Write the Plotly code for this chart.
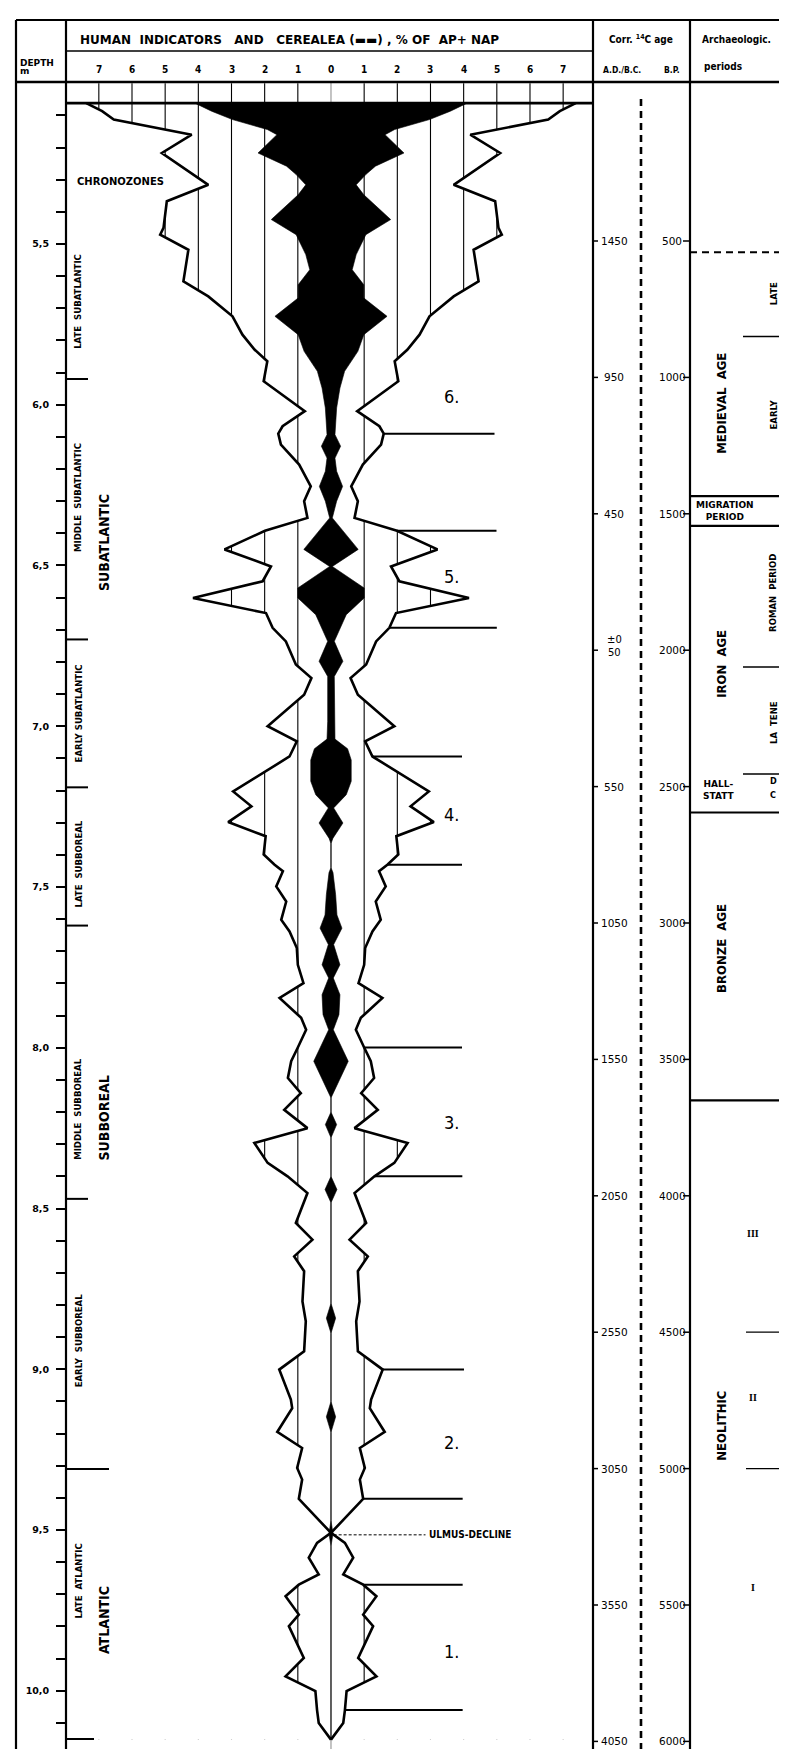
import plotly.graph_objects as go

W, H = 787, 1749


def px(x):
    return x / W


def py(y):
    return 1 - y / H


FONT = "DejaVu Sans Condensed, DejaVu Sans, sans-serif"
FONT_WIDE = "DejaVu Sans, sans-serif"

# ---------------- data ----------------
# Human indicators (half width of the symmetric silhouette, % of AP+NAP) by depth (m)
hum_depth = [5.062, 5.087, 5.113, 5.160, 5.217, 5.316, 5.367, 5.450, 5.471, 5.518,
             5.616, 5.663, 5.725, 5.782, 5.829, 5.865, 5.927, 6.020, 6.067, 6.090,
             6.124, 6.186, 6.254, 6.300, 6.352, 6.392, 6.450, 6.503, 6.549, 6.601,
             6.648, 6.694, 6.736, 6.808, 6.850, 6.902, 7.000, 7.047, 7.094, 7.140,
             7.203, 7.249, 7.298, 7.342, 7.399, 7.431, 7.451, 7.498, 7.545, 7.602,
             7.638, 7.690, 7.742, 7.799, 7.845, 7.907, 7.944, 7.999, 8.042, 8.094,
             8.141, 8.193, 8.250, 8.296, 8.358, 8.400, 8.452, 8.545, 8.597, 8.649,
             8.695, 8.789, 8.851, 8.944, 9.001, 9.094, 9.121, 9.195, 9.245, 9.307,
             9.343, 9.403, 9.509, 9.540, 9.586, 9.638, 9.670, 9.706, 9.763, 9.799,
             9.898, 9.955, 10.001, 10.060, 10.100, 10.152]
hum_pct = [7.38, 6.90, 6.55, 4.20, 5.10, 3.70, 4.95, 5.05, 5.15, 4.30,
           4.45, 3.70, 2.97, 2.67, 2.30, 1.92, 2.03, 0.79, 1.46, 1.59,
           1.51, 0.96, 0.61, 0.81, 0.71, 1.99, 3.21, 1.81, 2.06, 4.16,
           1.96, 1.76, 1.36, 1.06, 0.59, 0.81, 1.91, 1.03, 1.25, 1.95,
           2.95, 2.40, 3.10, 1.97, 2.03, 1.70, 1.45, 1.65, 1.35, 1.50,
           1.25, 1.03, 1.00, 0.83, 1.55, 0.90, 0.75, 1.00, 1.20, 1.30,
           0.91, 1.41, 0.71, 2.31, 1.91, 1.31, 0.71, 1.06, 0.56, 1.11,
           0.81, 0.86, 0.76, 0.81, 1.56, 1.21, 1.17, 1.62, 0.87, 1.02,
           0.87, 0.97, 0.00, 0.42, 0.67, 0.37, 0.97, 1.37, 0.97, 1.27,
           0.82, 1.37, 0.47, 0.42, 0.37, 0.00]

# Cerealea (half width, %) by depth (m)
cer_depth = [5.062, 5.087, 5.113, 5.144, 5.160, 5.217, 5.258, 5.284, 5.316, 5.347,
             5.424, 5.471, 5.533, 5.580, 5.627, 5.668, 5.725, 5.782, 5.834, 5.896,
             5.948, 6.010, 6.093, 6.129, 6.166, 6.207, 6.254, 6.300, 6.352, 6.450,
             6.503, 6.570, 6.601, 6.653, 6.736, 6.798, 6.845, 6.985, 7.040, 7.070,
             7.105, 7.171, 7.213, 7.254, 7.301, 7.348, 7.365, 7.440, 7.455, 7.524,
             7.587, 7.628, 7.679, 7.742, 7.783, 7.835, 7.897, 7.944, 8.042, 8.156,
             8.200, 8.239, 8.280, 8.400, 8.441, 8.482, 8.795, 8.841, 8.888, 9.100,
             9.148, 9.196, 9.470, 9.512, 9.550, 10.152]
cer_pct = [4.10, 3.60, 2.97, 1.92, 1.63, 2.20, 1.34, 1.05, 0.76, 0.99,
           1.80, 1.05, 0.76, 0.64, 0.99, 0.99, 1.69, 0.99, 0.81, 0.41,
           0.27, 0.17, 0.12, 0.29, 0.12, 0.17, 0.35, 0.17, 0.04, 0.82,
           0.04, 1.00, 1.00, 0.46, 0.10, 0.36, 0.10, 0.10, 0.12, 0.50,
           0.61, 0.61, 0.46, 0.08, 0.36, 0.06, 0.00, 0.00, 0.06, 0.14,
           0.18, 0.33, 0.08, 0.27, 0.07, 0.27, 0.24, 0.07, 0.52, 0.00,
           0.00, 0.17, 0.00, 0.00, 0.18, 0.00, 0.00, 0.14, 0.00, 0.00,
           0.14, 0.00, 0.00, 0.06, 0.00, 0.00]

# Local pollen zone boundaries
zone_depth = [6.090, 6.392, 6.694, 7.094, 7.431, 7.999, 8.400, 9.001, 9.403, 9.670, 10.060]
zone_x0 = [1.59, 1.99, 1.76, 1.25, 1.70, 1.00, 1.31, 1.56, 0.97, 0.97, 0.42]
zone_x1 = [4.93, 4.99, 5.00, 3.95, 3.95, 3.95, 3.96, 4.01, 3.97, 3.97, 3.97]
zone_names = ["6.", "5.", "4.", "3.", "2.", "1."]
zone_label_depth = [5.973, 6.533, 7.275, 8.234, 9.229, 9.877]
ulmus_depth = 9.515

pct_ticks = [-7, -6, -5, -4, -3, -2, -1, 0, 1, 2, 3, 4, 5, 6, 7]
pct_tick_text = ["7", "6", "5", "4", "3", "2", "1", "0", "1", "2", "3", "4", "5", "6", "7"]

depth_major = [5.5, 6.0, 6.5, 7.0, 7.5, 8.0, 8.5, 9.0, 9.5, 10.0]
depth_major_text = ["5,5", "6,0", "6,5", "7,0", "7,5", "8,0", "8,5", "9,0", "9,5", "10,0"]

# Chronozones
chrono_small = ["LATE  SUBATLANTIC", "MIDDLE  SUBATLANTIC", "EARLY SUBATLANTIC",
                "LATE  SUBBOREAL", "MIDDLE  SUBBOREAL", "EARLY  SUBBOREAL", "LATE  ATLANTIC"]
chrono_small_depth = [5.68, 6.29, 6.96, 7.43, 8.19, 8.91, 9.66]
chrono_big = ["SUBATLANTIC", "SUBBOREAL", "ATLANTIC"]
chrono_big_depth = [6.43, 8.22, 9.78]
chrono_bounds = [5.92, 6.73, 7.19, 7.62, 8.47, 9.31, 10.15]

# Age scale (BP) and corrected calendar labels
bp_ticks = [500, 1000, 1500, 2000, 2500, 3000, 3500, 4000, 4500, 5000, 5500, 6000]
bp_text = ["500", "1000", "1500", "2000", "2500", "3000", "3500", "4000", "4500", "5000", "5500", "6000"]
adbc_text = ["1450", "950", "450", "\u00b10<br>50", "550", "1050", "1550", "2050", "2550", "3050", "3550", "4050"]

# Archaeological periods (BP)
arch_dashed = 541
arch_full_bounds = [1435, 1544, 2595, 3650]
arch_sub_bounds = [850, 2062, 2454]
neo_bounds = [4500, 5000]
arch_main = ["MEDIEVAL  AGE", "IRON  AGE", "BRONZE  AGE", "NEOLITHIC"]
arch_main_bp = [1097, 2050, 3095, 4843]
arch_sub = ["LATE", "EARLY", "ROMAN  PERIOD", "LA  TENE"]
arch_sub_bp = [695, 1136, 1790, 2267]
neo_phases = ["III", "II", "I"]
neo_phase_bp = [4138, 4741, 5437]

# ---------------- figure ----------------
XL, XR = -7.99, 7.90
fig = go.Figure()

# white masks outside the human-indicator silhouette (clip the hatching)
fig.add_trace(go.Scatter(
    x=hum_pct + [XR, XR], y=hum_depth + [hum_depth[-1], hum_depth[0]],
    fill="toself", fillcolor="white", mode="lines", line=dict(width=0, color="white"),
    hoverinfo="skip"))
fig.add_trace(go.Scatter(
    x=[-v for v in hum_pct] + [XL, XL], y=hum_depth + [hum_depth[-1], hum_depth[0]],
    fill="toself", fillcolor="white", mode="lines", line=dict(width=0, color="white"),
    hoverinfo="skip"))

# Cerealea black silhouette
fig.add_trace(go.Scatter(
    x=cer_pct + [-v for v in reversed(cer_pct)],
    y=cer_depth + list(reversed(cer_depth)),
    fill="toself", fillcolor="black", mode="lines", line=dict(width=0.6, color="black"),
    hoverinfo="skip"))

# Human indicators outline
for sgn in (1, -1):
    fig.add_trace(go.Scatter(
        x=[sgn * v for v in hum_pct], y=hum_depth, mode="lines",
        line=dict(color="black", width=2.6), hoverinfo="skip"))

shapes = []


def pline(x0, y0, x1, y1, w=2.0, color="black", dash=None, layer="above"):
    ln = dict(color=color, width=w)
    if dash:
        ln["dash"] = dash
    shapes.append(dict(type="line", xref="paper", yref="paper",
                       x0=px(x0), y0=py(y0), x1=px(x1), y1=py(y1), line=ln, layer=layer))


# hatching gridlines
for k in pct_ticks:
    if k == 0:
        shapes.append(dict(type="line", xref="x", yref="paper", x0=0, x1=0, y0=py(74), y1=0,
                           line=dict(color="#888888", width=1), layer="below"))
    else:
        shapes.append(dict(type="line", xref="x", yref="y", x0=k, x1=k, y0=5.0, y1=hum_depth[-1],
                           line=dict(color="black", width=1.1), layer="below"))

# frame
pline(8, 12, 784, 12, 2.2)
pline(8, 74, 784, 74, 2.5)
pline(58, 43, 585, 43, 1.5)
for xx in (8, 58, 585, 682, 784):
    pline(xx, 12, xx, H, 2.2)

# top of the diagram
shapes.append(dict(type="line", xref="paper", yref="y", x0=px(58), x1=px(585),
                   y0=hum_depth[0], y1=hum_depth[0], line=dict(color="black", width=2.6)))

# zone boundaries
for d, a, b in zip(zone_depth, zone_x0, zone_x1):
    shapes.append(dict(type="line", xref="x", yref="y", x0=a, x1=b, y0=d, y1=d,
                       line=dict(color="black", width=2)))

# ulmus decline
shapes.append(dict(type="line", xref="x", yref="y", x0=0.08, x1=2.85, y0=ulmus_depth, y1=ulmus_depth,
                   line=dict(color="black", width=1, dash="3px,2px")))

# chronozone brackets
for i, d in enumerate(chrono_bounds):
    x1 = 80
    if i == len(chrono_bounds) - 2:
        x1 = 101
    if i == len(chrono_bounds) - 1:
        x1 = 86
    shapes.append(dict(type="line", xref="paper", yref="y", x0=px(58), x1=px(x1), y0=d, y1=d,
                       line=dict(color="black", width=2)))

# age column
pline(633, 91, 633, H, 2.6, dash="7px,5px")
for bp in bp_ticks:
    shapes.append(dict(type="line", xref="paper", yref="y2", x0=px(584), x1=px(590), y0=bp, y1=bp,
                       line=dict(color="black", width=1.5)))
    shapes.append(dict(type="line", xref="paper", yref="y2", x0=px(675), x1=px(682), y0=bp, y1=bp,
                       line=dict(color="black", width=1.5)))

# archaeological periods
shapes.append(dict(type="line", xref="paper", yref="y2", x0=px(682), x1=px(784),
                   y0=arch_dashed, y1=arch_dashed, line=dict(color="black", width=2, dash="7px,5px")))
for bp in arch_full_bounds:
    shapes.append(dict(type="line", xref="paper", yref="y2", x0=px(682), x1=px(784), y0=bp, y1=bp,
                       line=dict(color="black", width=2.2)))
for bp in arch_sub_bounds:
    shapes.append(dict(type="line", xref="paper", yref="y2", x0=px(735), x1=px(784), y0=bp, y1=bp,
                       line=dict(color="black", width=1.5)))
for bp in neo_bounds:
    shapes.append(dict(type="line", xref="paper", yref="y2", x0=px(738), x1=px(784), y0=bp, y1=bp,
                       line=dict(color="black", width=1.2)))

ann = []


def text(t, x, y, size=10, xref="paper", yref="paper", xanchor="center", yanchor="middle",
         angle=0, bold=True, family=FONT, yshift=0):
    ann.append(dict(text=t, x=x, y=y, xref=xref, yref=yref, xanchor=xanchor, yanchor=yanchor,
                    textangle=angle, showarrow=False, yshift=yshift,
                    font=dict(family=family, size=size, color="black",
                              weight="bold" if bold else "normal")))


# header
text("HUMAN\u00a0 INDICATORS\u00a0\u00a0 AND\u00a0\u00a0 CEREALEA (\u25ac\u25ac) ,\u00a0% OF\u00a0 AP+\u00a0NAP",
     px(70), py(32), size=12, xanchor="left", family=FONT_WIDE)
for k, t in zip(pct_ticks, pct_tick_text):
    text(t, k, py(62), size=10, xref="x")
text("DEPTH", px(10), py(55), size=9, xanchor="left", family=FONT_WIDE)
text("m", px(10), py(63), size=9, xanchor="left", family=FONT_WIDE)
text("Corr. <sup>14</sup>C age", px(633), py(31), size=10)
text("A.D./B.C.", px(614), py(62), size=8.5)
text("B.P.", px(664), py(62), size=8.5)
text("Archaeologic.", px(692), py(32), size=10, xanchor="left")
text("periods", px(694), py(58), size=10, xanchor="left")

# chronozones
text("CHRONOZONES", px(67), 5.305, size=10, xanchor="left", yref="y", family=FONT_WIDE)
for t, d in zip(chrono_small, chrono_small_depth):
    text(t, px(70), d, size=9.5, yref="y", angle=-90)
for t, d in zip(chrono_big, chrono_big_depth):
    text(t, px(96), d, size=14, yref="y", angle=-90)

# zones
for t, d in zip(zone_names, zone_label_depth):
    text(t, 3.62, d, size=18, xref="x", yref="y", bold=False)
text("ULMUS-DECLINE", 2.88, ulmus_depth, size=10, xref="x", yref="y", xanchor="left", family=FONT)

# age labels
for bp, a, b in zip(bp_ticks, adbc_text, bp_text):
    if "<br>" in a:
        text(a, px(606), bp, size=10, yref="y2", bold=False, family=FONT_WIDE, yshift=4)
    else:
        text(a, px(606), bp, size=10.5, yref="y2", bold=False, family=FONT_WIDE)
    text(b, px(664), bp, size=10.5, yref="y2", bold=False, family=FONT_WIDE)

# archaeological periods
for t, bp in zip(arch_main, arch_main_bp):
    text(t, px(714), bp, size=13, yref="y2", angle=-90, family=FONT)
for t, bp in zip(arch_sub, arch_sub_bp):
    text(t, px(765), bp, size=9.5, yref="y2", angle=-90)
text("MIGRATION<br>PERIOD", px(686), 1490, size=9, yref="y2", xanchor="left", family=FONT_WIDE)
text("HALL-<br>STATT", px(711), 2512, size=9, yref="y2", family=FONT_WIDE)
text("D", px(765), 2479, size=9, yref="y2")
text("C", px(765), 2529, size=9, yref="y2")
for t, bp in zip(neo_phases, neo_phase_bp):
    text(t, px(745), bp, size=10, yref="y2", family="Liberation Serif, serif")

depth_minor = [round(5.1 + 0.1 * i, 1) for i in range(51)]
depth_minor = [v for v in depth_minor if v not in depth_major]

fig.update_layout(
    width=W, height=H, autosize=False,
    margin=dict(l=0, r=0, t=0, b=0, pad=0),
    paper_bgcolor="white", plot_bgcolor="white",
    showlegend=False,
    xaxis=dict(domain=[px(58), px(585)], range=[XL, XR], visible=False, fixedrange=True),
    yaxis=dict(domain=[0, 1], range=[10.206, 4.766], tickmode="array",
               tickvals=depth_major, ticktext=depth_major_text,
               ticks="outside", ticklen=9, tickwidth=2, tickcolor="black",
               minor=dict(tickmode="array", tickvals=depth_minor, ticks="outside",
                          ticklen=9, tickwidth=2, tickcolor="black", showgrid=False),
               showgrid=False, zeroline=False, showline=False, ticklabelstandoff=5,
               tickfont=dict(family=FONT_WIDE, size=9.5, color="black", weight="bold")),
    yaxis2=dict(overlaying="y", range=[6057.2, -354.1], visible=False),
    shapes=shapes,
    annotations=ann,
)

fig.write_html("out.html")
